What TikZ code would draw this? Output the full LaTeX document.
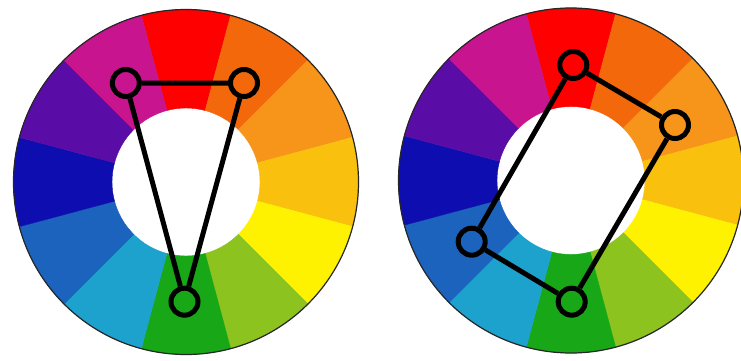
\documentclass[tikz,border=0pt]{standalone}
\definecolor{cRed}{HTML}{FE0000}
\definecolor{cRedOrange}{HTML}{F4680C}
\definecolor{cOrange}{HTML}{F7941A}
\definecolor{cYellowOrange}{HTML}{FAC00E}
\definecolor{cYellow}{HTML}{FFF200}
\definecolor{cYellowGreen}{HTML}{8CC31E}
\definecolor{cGreen}{HTML}{17A717}
\definecolor{cCyan}{HTML}{1DA2CE}
\definecolor{cBlue}{HTML}{1B63BD}
\definecolor{cDarkBlue}{HTML}{0E0EB0}
\definecolor{cViolet}{HTML}{5A0DA6}
\definecolor{cMagenta}{HTML}{C8148E}
\tikzset{
  marker/.style={circle,draw=black,line width=5pt,minimum size=27pt,inner sep=0pt},
  link/.style={draw=black,line width=5pt},
  rimline/.style={draw=black!85,line width=1.2pt}
}
\newcommand\colorwheel{%
  \foreach \col [count=\i from 0] in {cRed,cRedOrange,cOrange,cYellowOrange,cYellow,cYellowGreen,cGreen,cCyan,cBlue,cDarkBlue,cViolet,cMagenta}{%
    \pgfmathsetmacro\aone{105-30*\i}%
    \pgfmathsetmacro\atwo{75-30*\i}%
    \fill[\col,draw=\col,line width=0.4pt] (\aone:172.5pt) arc[start angle=\aone,end angle=\atwo,radius=172.5pt]
      -- (\atwo:74pt) arc[start angle=\atwo,end angle=\aone,radius=74pt] -- cycle;
  }%
  \draw[rimline] (0,0) circle[radius=172.5pt];%
}
\begin{document}
\begin{tikzpicture}[x=1pt,y=1pt]
\useasboundingbox (0,0) rectangle (741,360);
\fill[white] (0,0) rectangle (741,360);
% left wheel
\begin{scope}[shift={(186,178)}]
  \colorwheel
\end{scope}
\node[marker] (L1) at (125.8,277) {};
\node[marker] (L2) at (244,277) {};
\node[marker] (L3) at (184.5,58.3) {};
\draw[link] (L1) -- (L2) (L2) -- (L3) (L3) -- (L1);
% right wheel
\begin{scope}[shift={(571,179.5)}]
  \colorwheel
\end{scope}
\node[marker] (R1) at (573.3,295) {};
\node[marker] (R2) at (675,235) {};
\node[marker] (R3) at (571.7,58.3) {};
\node[marker] (R4) at (471.7,118.3) {};
\draw[link] (R1) -- (R2) (R2) -- (R3) (R3) -- (R4) (R4) -- (R1);
\end{tikzpicture}
\end{document}
